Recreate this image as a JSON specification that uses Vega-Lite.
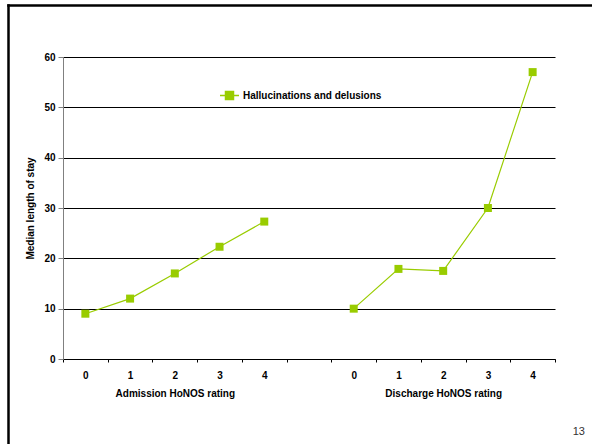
{
  "$schema": "https://vega.github.io/schema/vega-lite/v6.json",
  "width": 584,
  "height": 439,
  "autosize": {"type": "none"},
  "padding": {"left": 8, "top": 5, "right": 0, "bottom": 0},
  "background": "white",
  "config": {
    "font": "Liberation Sans",
    "view": {"stroke": null}
  },
  "title": {
    "text": "13",
    "orient": "bottom",
    "anchor": "end",
    "frame": "group",
    "offset": -18,
    "dx": -7,
    "fontSize": 11,
    "fontWeight": "normal",
    "color": "#333"
  },
  "data": {
    "values": [
      {"series": "Hallucinations and delusions", "stage": "Admission", "rating": 0, "stay": 9},
      {"series": "Hallucinations and delusions", "stage": "Admission", "rating": 1, "stay": 12},
      {"series": "Hallucinations and delusions", "stage": "Admission", "rating": 2, "stay": 17},
      {"series": "Hallucinations and delusions", "stage": "Admission", "rating": 3, "stay": 22.3},
      {"series": "Hallucinations and delusions", "stage": "Admission", "rating": 4, "stay": 27.3},
      {"series": "Hallucinations and delusions", "stage": "Discharge", "rating": 0, "stay": 10},
      {"series": "Hallucinations and delusions", "stage": "Discharge", "rating": 1, "stay": 17.9},
      {"series": "Hallucinations and delusions", "stage": "Discharge", "rating": 2, "stay": 17.5},
      {"series": "Hallucinations and delusions", "stage": "Discharge", "rating": 3, "stay": 30},
      {"series": "Hallucinations and delusions", "stage": "Discharge", "rating": 4, "stay": 57}
    ]
  },
  "transform": [
    {"calculate": "substring(datum.stage, 0, 1) + datum.rating", "as": "slot"}
  ],
  "layer": [
    {
      "encoding": {
        "x": {
          "field": "slot",
          "type": "ordinal",
          "scale": {
            "domain": ["A0", "A1", "A2", "A3", "A4", "gap", "D0", "D1", "D2", "D3", "D4"],
            "range": [55, 547],
            "paddingInner": 0,
            "paddingOuter": 0
          },
          "axis": {
            "orient": "bottom",
            "offset": -85,
            "title": null,
            "tickBand": "extent",
            "tickSize": 3,
            "tickColor": "#000",
            "domainColor": "#000",
            "labelAngle": 0,
            "labelPadding": 8,
            "labelLineHeight": 18,
            "labelFontSize": 10,
            "labelFontWeight": "bold",
            "labelColor": "#000",
            "labelLimit": 400,
            "labelOverlap": false,
            "labelBound": false,
            "labelFlush": false,
            "labelExpr": "!datum.value || datum.value == 'gap' ? '' : datum.value == 'A2' ? ['2', 'Admission HoNOS rating'] : datum.value == 'D2' ? ['2', 'Discharge HoNOS rating'] : substring(datum.value, 1)"
          }
        },
        "y": {
          "field": "stay",
          "type": "quantitative",
          "scale": {"domain": [0, 60], "range": [354, 52], "nice": false, "zero": true},
          "axis": {
            "orient": "left",
            "offset": -55,
            "values": [0, 10, 20, 30, 40, 50, 60],
            "grid": true,
            "gridColor": "#000",
            "gridWidth": 1,
            "domainColor": "#808080",
            "tickColor": "#808080",
            "tickSize": 5,
            "labelPadding": 3,
            "labelFontSize": 10,
            "labelFontWeight": "bold",
            "labelColor": "#000",
            "title": "Median length of stay",
            "titleFontSize": 10,
            "titleFontWeight": "bold",
            "titleColor": "#000",
            "titlePadding": 8
          }
        },
        "color": {
          "field": "series",
          "type": "nominal",
          "scale": {"range": ["#99cc00"]},
          "legend": {
            "orient": "none",
            "legendX": 211,
            "legendY": 80,
            "title": null,
            "padding": 0,
            "symbolType": "M-1,0H1M-0.42,-0.42H0.42V0.42H-0.42Z",
            "symbolSize": 361,
            "symbolStrokeWidth": 1.5,
            "symbolOpacity": 1,
            "labelOffset": 3,
            "labelFontSize": 10,
            "labelFontWeight": "bold",
            "labelColor": "#000",
            "labelLimit": 400
          }
        }
      },
      "layer": [
        {
          "mark": {"type": "line", "strokeWidth": 1.2},
          "encoding": {"detail": {"field": "stage"}}
        },
        {
          "mark": {"type": "point", "shape": "square", "filled": true, "size": 64, "opacity": 1}
        }
      ]
    },
    {
      "mark": {"type": "point", "opacity": 0},
      "encoding": {
        "x": {
          "field": "rating",
          "type": "quantitative",
          "scale": {"nice": false},
          "axis": {
            "orient": "top",
            "offset": 0,
            "title": null,
            "labels": false,
            "ticks": false,
            "grid": false,
            "domainColor": "#000",
            "domainWidth": 2.5,
            "domainCap": "square"
          }
        },
        "y": {
          "field": "stay",
          "type": "quantitative",
          "scale": {"nice": false},
          "axis": {
            "orient": "left",
            "offset": 0,
            "title": null,
            "labels": false,
            "ticks": false,
            "grid": false,
            "domainColor": "#000",
            "domainWidth": 2.5,
            "domainCap": "square"
          }
        }
      }
    }
  ],
  "resolve": {
    "scale": {"x": "independent", "y": "independent"},
    "axis": {"x": "independent", "y": "independent"}
  }
}
